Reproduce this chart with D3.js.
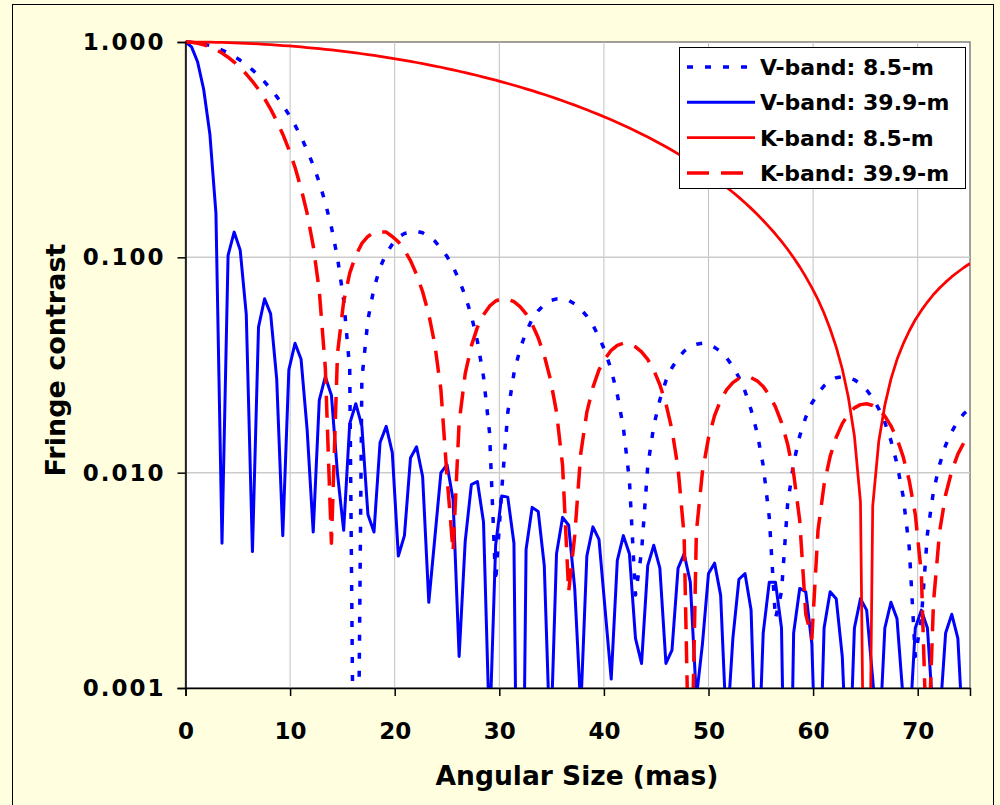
<!DOCTYPE html>
<html>
<head>
<meta charset="utf-8">
<script src="https://cdn.jsdelivr.net/npm/d3@7"></script>
<style>
  body { margin: 0; background: #ffffe0; }
  svg { display: block; }
</style>
</head>
<body>
<script>
// Chart settings
const width = 1000
const height = 805
const plotLeft = 185.5
const plotRight = 970
const plotTop = 42
const plotBottom = 688

// Angular size (mas), one column shared by all four series
const angularSize = [
  0, 0.58, 1.16, 1.74, 2.33, 2.91, 3.49, 4.07, 4.65, 5.23,
  5.81, 6.40, 6.98, 7.56, 8.14, 8.72, 9.30, 9.88, 10.47, 11.05,
  11.63, 12.21, 12.79, 13.37, 13.95, 14.53, 15.12, 15.70, 16.28, 16.86,
  17.44, 18.02, 18.60, 19.19, 19.77, 20.35, 20.93, 21.51, 22.09, 22.67,
  23.26, 23.84, 24.42, 25.00, 25.58, 26.16, 26.74, 27.33, 27.91, 28.49,
  29.07, 29.65, 30.23, 30.81, 31.40, 31.98, 32.56, 33.14, 33.72, 34.30,
  34.88, 35.47, 36.05, 36.63, 37.21, 37.79, 38.37, 38.95, 39.53, 40.12,
  40.70, 41.28, 41.86, 42.44, 43.02, 43.60, 44.19, 44.77, 45.35, 45.93,
  46.51, 47.09, 47.67, 48.26, 48.84, 49.42, 50.00, 50.58, 51.16, 51.74,
  52.33, 52.91, 53.49, 54.07, 54.65, 55.23, 55.81, 56.40, 56.98, 57.56,
  58.14, 58.72, 59.30, 59.88, 60.47, 61.05, 61.63, 62.21, 62.79, 63.37,
  63.95, 64.53, 65.12, 65.70, 66.28, 66.86, 67.44, 68.02, 68.60, 69.19,
  69.77, 70.35, 70.93, 71.51, 72.09, 72.67, 73.26, 73.84, 74.42, 75.00
]

// V-band, 8.5-m baseline
const vBand85 = [
  1, 0.998, 0.991, 0.979, 0.963, 0.943, 0.918, 0.890, 0.858, 0.822,
  0.784, 0.742, 0.699, 0.653, 0.606, 0.558, 0.509, 0.460, 0.411, 0.362,
  0.314, 0.268, 0.223, 0.179, 0.138, 0.0996, 0.0636, 0.0303, 0.00002, 0.0272,
  0.0513, 0.0720, 0.0897, 0.104, 0.115, 0.124, 0.129, 0.131, 0.132, 0.130,
  0.125, 0.119, 0.110, 0.101, 0.0903, 0.0786, 0.0662, 0.0536, 0.0407, 0.0279,
  0.0153, 0.0031, 0.0083, 0.0190, 0.0289, 0.0375, 0.0450, 0.0516, 0.0565, 0.0603,
  0.0630, 0.0641, 0.0640, 0.0631, 0.0607, 0.0574, 0.0533, 0.0484, 0.0427, 0.0366,
  0.0300, 0.0231, 0.0162, 0.0092, 0.0027, 0.0043, 0.0107, 0.0165, 0.0218, 0.0267,
  0.0307, 0.0340, 0.0367, 0.0385, 0.0395, 0.0399, 0.0394, 0.0382, 0.0365, 0.0341,
  0.0311, 0.0277, 0.0239, 0.0196, 0.0153, 0.0108, 0.0062, 0.0021, 0.0028, 0.0071,
  0.0111, 0.0148, 0.0181, 0.0210, 0.0234, 0.0253, 0.0267, 0.0276, 0.0279, 0.0277,
  0.0270, 0.0258, 0.0242, 0.0222, 0.0198, 0.0171, 0.0141, 0.0110, 0.0078, 0.0045,
  0.0014, 0.0021, 0.0052, 0.0082, 0.0109, 0.0134, 0.0155, 0.0174, 0.0188, 0.0199
]

// V-band, 39.9-m baseline
const vBand399 = [
  1, 0.949, 0.807, 0.602, 0.373, 0.160, 0.0047, 0.102, 0.131, 0.108,
  0.0543, 0.0043, 0.0474, 0.0642, 0.0546, 0.0272, 0.0051, 0.0300, 0.0399, 0.0336,
  0.0158, 0.0053, 0.0217, 0.0279, 0.0229, 0.0099, 0.0054, 0.0169, 0.0209, 0.0165,
  0.0064, 0.0053, 0.0138, 0.0164, 0.0124, 0.0041, 0.0051, 0.0117, 0.0132, 0.0096,
  0.0025, 0.0050, 0.0100, 0.0109, 0.0075, 0.0014, 0.0048, 0.0088, 0.0091, 0.0059,
  0.0006, 0.0046, 0.0078, 0.0077, 0.0047, 0.00001, 0.0044, 0.0069, 0.0066, 0.0037,
  0.0005, 0.0042, 0.0062, 0.0057, 0.0029, 0.0008, 0.0041, 0.0056, 0.0049, 0.0023,
  0.0011, 0.0039, 0.0051, 0.0042, 0.0017, 0.0013, 0.0037, 0.0046, 0.0036, 0.0013,
  0.0015, 0.0036, 0.0042, 0.0031, 0.0009, 0.0016, 0.0034, 0.0038, 0.0027, 0.0006,
  0.0017, 0.0032, 0.0034, 0.0023, 0.0003, 0.0018, 0.0031, 0.0031, 0.0019, 0.00004,
  0.0018, 0.0029, 0.0028, 0.0016, 0.0002, 0.0019, 0.0028, 0.0026, 0.0014, 0.0003,
  0.0019, 0.0026, 0.0023, 0.0011, 0.0005, 0.0019, 0.0025, 0.0021, 0.0009, 0.0006,
  0.0019, 0.0023, 0.0019, 0.0007, 0.0007, 0.0018, 0.0022, 0.0017, 0.0005, 0.0008
]

// K-band, 8.5-m baseline
const kBand85 = [
  1, 1.000, 0.9994, 0.9987, 0.9977, 0.9963, 0.9947, 0.9929, 0.9907, 0.9882,
  0.9854, 0.9824, 0.9791, 0.9755, 0.9716, 0.9674, 0.9630, 0.9583, 0.9533, 0.9481,
  0.9426, 0.9369, 0.9308, 0.9246, 0.9181, 0.9113, 0.9043, 0.8971, 0.8896, 0.8819,
  0.8740, 0.8658, 0.8575, 0.8489, 0.8401, 0.8312, 0.8220, 0.8126, 0.8031, 0.7934,
  0.7838, 0.7734, 0.7632, 0.7528, 0.7422, 0.7316, 0.7207, 0.7098, 0.6987, 0.6875,
  0.6762, 0.6647, 0.6532, 0.6416, 0.6299, 0.6180, 0.6062, 0.5942, 0.5822, 0.5701,
  0.5581, 0.5458, 0.5336, 0.5213, 0.5092, 0.4968, 0.4845, 0.4721, 0.4599, 0.4475,
  0.4352, 0.4229, 0.4108, 0.3986, 0.3864, 0.3742, 0.3621, 0.3498, 0.3379, 0.3262,
  0.3141, 0.3023, 0.2908, 0.2791, 0.2675, 0.2562, 0.2447, 0.2336, 0.2225, 0.2114,
  0.2006, 0.1899, 0.1793, 0.1688, 0.1585, 0.1482, 0.1382, 0.1283, 0.1185, 0.1090,
  0.0996, 0.0903, 0.0812, 0.0723, 0.0636, 0.0550, 0.0465, 0.0383, 0.0303, 0.0224,
  0.0148, 0.0073, 0.00002, 0.0070, 0.0140, 0.0206, 0.0272, 0.0335, 0.0395, 0.0455,
  0.0513, 0.0567, 0.0620, 0.0672, 0.0720, 0.0767, 0.0813, 0.0855, 0.0897, 0.0936
]

// K-band, 39.9-m baseline
const kBand399 = [
  1, 0.997, 0.987, 0.971, 0.949, 0.922, 0.888, 0.850, 0.807, 0.761,
  0.710, 0.657, 0.602, 0.546, 0.488, 0.430, 0.373, 0.317, 0.262, 0.209,
  0.160, 0.113, 0.070, 0.0305, 0.0047, 0.0357, 0.0623, 0.0845, 0.102, 0.116,
  0.125, 0.131, 0.131, 0.131, 0.125, 0.118, 0.108, 0.0965, 0.0833, 0.0692,
  0.0543, 0.0393, 0.0242, 0.0096, 0.0043, 0.0171, 0.0288, 0.0388, 0.0474, 0.0541,
  0.0593, 0.0627, 0.0642, 0.0639, 0.0622, 0.0591, 0.0546, 0.0489, 0.0423, 0.0350,
  0.0272, 0.0191, 0.0108, 0.0028, 0.0051, 0.0123, 0.0191, 0.0249, 0.0300, 0.0339,
  0.0370, 0.0390, 0.0399, 0.0396, 0.0384, 0.0364, 0.0336, 0.0299, 0.0256, 0.0209,
  0.0158, 0.0105, 0.0051, 0.0002, 0.0053, 0.0101, 0.0145, 0.0184, 0.0217, 0.0243,
  0.0262, 0.0274, 0.0279, 0.0276, 0.0267, 0.0251, 0.0229, 0.0202, 0.0171, 0.0136,
  0.0099, 0.0060, 0.0022, 0.0017, 0.0054, 0.0088, 0.0119, 0.0146, 0.0169, 0.0187,
  0.0200, 0.0207, 0.0209, 0.0205, 0.0197, 0.0183, 0.0165, 0.0144, 0.0119, 0.0092,
  0.0064, 0.0034, 0.0004, 0.0025, 0.0053, 0.0079, 0.0102, 0.0122, 0.0138, 0.0150
]

// Tick labels
const xTicks = [0, 10, 20, 30, 40, 50, 60, 70]
const yTicks = [0.001, 0.01, 0.1, 1]

// Series styles, in Excel drawing order
const blueColor = '#0000ff'
const redColor = '#ff0000'
const series = [
  { name: 'V-band: 8.5-m', values: vBand85, color: blueColor, width: 3.5, dash: '6,12' },
  { name: 'V-band: 39.9-m', values: vBand399, color: blueColor, width: 3, dash: null },
  { name: 'K-band: 8.5-m', values: kBand85, color: redColor, width: 2.75, dash: null },
  { name: 'K-band: 39.9-m', values: kBand399, color: redColor, width: 3.5, dash: '22,12' }
]

const chartFont = '"DejaVu Sans", Verdana, sans-serif'

// Create svg
const svg = d3.select('body')
  .append('svg')
  .attr('width', width)
  .attr('height', height)

// Outer chart frame
svg.append('rect')
  .attr('x', 12.5)
  .attr('y', 4.5)
  .attr('width', 981)
  .attr('height', 820)
  .attr('fill', '#ffffe0')
  .attr('stroke', '#000')
  .attr('stroke-width', 1)

// Scales
const xScale = d3.scaleLinear()
  .domain([0, 75])
  .range([plotLeft, plotRight])
const yScale = d3.scaleLog()
  .domain([0.001, 1])
  .range([plotBottom, plotTop])

// Plot area
svg.append('rect')
  .attr('x', plotLeft)
  .attr('y', plotTop)
  .attr('width', plotRight - plotLeft)
  .attr('height', plotBottom - plotTop)
  .attr('fill', '#fff')
  .attr('stroke', '#808080')
  .attr('stroke-width', 1.5)

// Gridlines
svg.append('g')
  .selectAll('line')
  .data(xTicks.slice(1))
  .enter()
  .append('line')
  .attr('x1', d => xScale(d))
  .attr('x2', d => xScale(d))
  .attr('y1', plotTop)
  .attr('y2', plotBottom)
  .attr('stroke', '#c0c0c0')
  .attr('stroke-width', 1)
svg.append('g')
  .selectAll('line')
  .data([0.01, 0.1])
  .enter()
  .append('line')
  .attr('x1', plotLeft)
  .attr('x2', plotRight)
  .attr('y1', d => yScale(d))
  .attr('y2', d => yScale(d))
  .attr('stroke', '#cccccc')
  .attr('stroke-width', 1.5)

// Clip for series
svg.append('clipPath')
  .attr('id', 'plot-clip')
  .append('rect')
  .attr('x', plotLeft)
  .attr('y', plotTop - 2)
  .attr('width', plotRight - plotLeft)
  .attr('height', plotBottom - plotTop + 2)

const line = d3.line()
  .x((d, i) => xScale(angularSize[i]))
  .y(d => yScale(d))

// Add series lines
svg.append('g')
  .attr('clip-path', 'url(#plot-clip)')
  .selectAll('path')
  .data(series)
  .enter()
  .append('path')
  .attr('d', d => line(d.values))
  .attr('fill', 'none')
  .attr('stroke', d => d.color)
  .attr('stroke-width', d => d.width)
  .attr('stroke-dasharray', d => d.dash)
  .attr('stroke-linejoin', 'round')

// Add Y axis
const yAxis = svg.append('g')
  .attr('transform', `translate(${plotLeft}, 0)`)
  .call(d3.axisLeft(yScale)
    .tickValues(yTicks)
    .tickFormat(d3.format('.3f'))
    .tickSize(8)
    .tickPadding(12))
yAxis.select('.domain').attr('stroke', '#000').attr('stroke-width', 1.5)
yAxis.selectAll('.tick line').attr('stroke', '#000').attr('stroke-width', 1.5)
yAxis.selectAll('text')
  .style('font-family', chartFont)
  .style('font-weight', 'bold')
  .style('font-size', '23px')
  .style('letter-spacing', '2px')
  .attr('fill', '#000')

// Add X axis
const xAxis = svg.append('g')
  .attr('transform', `translate(0, ${plotBottom})`)
  .call(d3.axisBottom(xScale)
    .tickValues(xTicks)
    .tickFormat(d3.format('d'))
    .tickSize(8)
    .tickPadding(27))
xAxis.select('.domain').attr('stroke', '#000').attr('stroke-width', 1.5)
xAxis.selectAll('.tick line').attr('stroke', '#000').attr('stroke-width', 1.5)
xAxis.selectAll('text')
  .style('font-family', chartFont)
  .style('font-weight', 'bold')
  .style('font-size', '23px')
  .attr('fill', '#000')

// Axis titles
svg.append('text')
  .attr('x', 577)
  .attr('y', 785)
  .text('Angular Size (mas)')
  .style('font-family', chartFont)
  .style('font-weight', 'bold')
  .style('font-size', '26.5px')
  .style('text-anchor', 'middle')
svg.append('text')
  .attr('transform', `translate(65, 360) rotate(-90)`)
  .text('Fringe contrast')
  .style('font-family', chartFont)
  .style('font-weight', 'bold')
  .style('font-size', '27px')
  .style('text-anchor', 'middle')

// Add legend
const legend = svg.append('g')
  .attr('id', 'legend')
legend.append('rect')
  .attr('x', 679.5)
  .attr('y', 47.5)
  .attr('width', 286)
  .attr('height', 141)
  .attr('fill', '#fff')
  .attr('stroke', '#000')
  .attr('stroke-width', 1)

const legendRow = legend.selectAll('.legend-label')
  .data(series)
  .enter()
  .append('g')
  .attr('class', 'legend-label')
  .attr('transform', (d, i) => `translate(687, ${67 + i * 35.3})`)
legendRow.append('line')
  .attr('x1', 0)
  .attr('x2', 68)
  .attr('stroke', d => d.color)
  .attr('stroke-width', d => d.width)
  .attr('stroke-dasharray', d => d.dash)
legendRow.append('text')
  .attr('x', 73)
  .attr('y', 8)
  .text(d => d.name)
  .style('font-family', chartFont)
  .style('font-weight', 'bold')
  .style('font-size', '22px')
</script>
</body>
</html>
